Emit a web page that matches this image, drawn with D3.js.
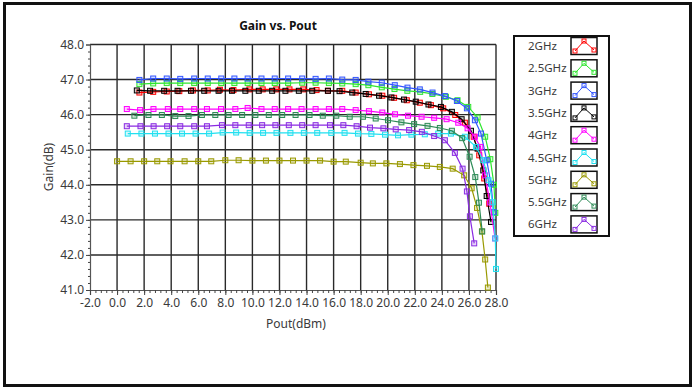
<!DOCTYPE html>
<html>
<head>
<meta charset="utf-8">
<script src="https://cdn.jsdelivr.net/npm/d3@7"></script>
<style>
  body { margin: 0; background: #fff; }
  text { font-family: "Noto Sans", "Open Sans", sans-serif; }
</style>
</head>
<body>
<svg id="chart" width="694" height="389"></svg>
<script>
// frequencies shown in the legend
let seriesNames = ['2GHz', '2.5GHz', '3GHz', '3.5GHz', '4GHz', '4.5GHz', '5GHz', '5.5GHz', '6GHz'];
let seriesColors = ['#ff0000', '#2ee62e', '#3355ff', '#000000', '#ff00ff', '#22e0f0', '#999900', '#2e8b57', '#8a2be2'];

let xTicks = [-2, 0, 2, 4, 6, 8, 10, 12, 14, 16, 18, 20, 22, 24, 26, 28];
let yTicks = [41, 42, 43, 44, 45, 46, 47, 48];

// [Pout dBm, Gain dB]
let gain2 = [[1.65,46.63],[2.67,46.65],[3.67,46.66],[4.6,46.67],[5.6,46.69],[6.7,46.69],[7.6,46.71],[8.6,46.7],[9.78,46.72],[10.76,46.72],[11.76,46.72],[12.74,46.72],[13.76,46.72],[14.74,46.7],[15.58,46.68],[16.64,46.68],[17.63,46.63],[18.61,46.58],[19.6,46.54],[20.47,46.48],[21.41,46.41],[22.37,46.34],[23.19,46.27],[24.1,46.18],[24.99,45.99],[25.7,45.77],[26.35,45.37],[26.76,44.84],[27.13,44.18],[27.5,43.46]];
let gain25 = [[1.65,46.87],[2.67,46.89],[3.67,46.9],[4.67,46.9],[5.7,46.9],[6.7,46.9],[7.7,46.9],[8.67,46.9],[9.65,46.9],[10.67,46.9],[11.65,46.9],[12.64,46.9],[13.68,46.91],[14.67,46.91],[15.65,46.9],[16.64,46.89],[17.63,46.87],[18.57,46.84],[19.56,46.78],[20.5,46.73],[21.45,46.68],[22.4,46.65],[23.3,46.59],[24.3,46.51],[25.16,46.41],[25.95,46.22],[26.64,45.92],[27.2,45.37],[27.58,44.73],[27.85,44.0],[27.95,43.2]];
let gain3 = [[1.65,46.99],[2.67,47.03],[3.67,47.03],[4.67,47.02],[5.7,47.03],[6.7,47.03],[7.7,47.03],[8.67,47.03],[9.65,47.03],[10.67,47.03],[11.65,47.03],[12.64,47.03],[13.68,47.03],[14.67,47.02],[15.65,47.03],[16.64,47.0],[17.63,46.99],[18.57,46.94],[19.56,46.91],[20.52,46.84],[21.46,46.77],[22.37,46.72],[23.31,46.63],[24.22,46.53],[25.11,46.39],[25.85,46.18],[26.44,45.84],[26.89,45.46],[27.31,44.7],[27.63,44.03],[27.83,43.22]];
let gain35 = [[1.46,46.69],[2.44,46.68],[3.48,46.68],[4.47,46.68],[5.46,46.68],[6.44,46.68],[7.5,46.68],[8.49,46.68],[9.48,46.68],[10.47,46.68],[11.46,46.68],[12.44,46.68],[13.43,46.68],[14.42,46.68],[15.58,46.68],[16.44,46.67],[17.38,46.63],[18.37,46.59],[19.36,46.54],[20.27,46.49],[21.2,46.43],[22.07,46.37],[23.01,46.29],[23.93,46.22],[24.74,46.08],[25.46,45.87],[26.15,45.54],[26.64,45.03],[27.06,44.41],[27.31,43.68],[27.63,42.94]];
let gain4 = [[0.72,46.16],[1.7,46.13],[2.69,46.16],[3.75,46.16],[4.67,46.16],[5.7,46.16],[6.64,46.16],[7.68,46.16],[8.74,46.16],[9.65,46.19],[10.67,46.16],[11.65,46.16],[12.64,46.16],[13.63,46.16],[14.67,46.16],[15.65,46.16],[16.64,46.16],[17.63,46.13],[18.61,46.1],[19.6,46.06],[20.54,46.01],[21.5,45.97],[22.5,45.94],[23.43,45.91],[24.35,45.87],[25.21,45.77],[25.9,45.61],[26.44,45.37],[26.84,45.08],[27.19,44.27],[27.55,43.5],[27.93,42.47]];
let gain45 = [[0.79,45.46],[1.8,45.46],[2.8,45.46],[3.8,45.46],[4.8,45.46],[5.8,45.46],[6.8,45.46],[7.8,45.49],[8.8,45.49],[9.8,45.48],[10.79,45.48],[11.78,45.48],[12.81,45.48],[13.8,45.48],[14.79,45.48],[15.83,45.48],[16.81,45.48],[17.8,45.46],[18.79,45.45],[19.8,45.43],[20.76,45.41],[21.75,45.43],[22.74,45.44],[23.73,45.46],[24.67,45.46],[25.7,45.37],[26.52,45.08],[27.06,44.7],[27.45,44.13],[27.75,43.5],[27.95,42.47],[28.0,41.6]];
let gain5 = [[0.0,44.67],[1.0,44.67],[2.0,44.67],[2.97,44.67],[3.95,44.67],[4.99,44.67],[6.0,44.67],[6.96,44.67],[8.0,44.7],[8.98,44.7],[10.0,44.69],[11.0,44.69],[12.0,44.69],[13.0,44.69],[14.0,44.69],[15.0,44.69],[16.0,44.66],[16.9,44.66],[18.0,44.63],[18.9,44.61],[19.9,44.61],[20.9,44.59],[21.9,44.56],[22.9,44.54],[23.85,44.51],[24.8,44.46],[25.65,44.27],[26.2,43.9],[26.6,43.34],[26.96,42.67],[27.2,41.87],[27.4,41.07]];
let gain55 = [[1.28,45.97],[2.32,45.99],[3.31,45.99],[4.3,45.96],[5.28,45.96],[6.27,45.99],[7.26,45.99],[8.24,45.99],[9.24,45.99],[10.22,45.99],[11.21,45.99],[12.2,45.99],[13.19,45.99],[14.22,45.99],[15.2,45.97],[16.2,45.97],[17.19,45.94],[18.17,45.94],[19.11,45.89],[20.02,45.84],[21.01,45.78],[21.95,45.73],[22.94,45.68],[23.85,45.62],[24.74,45.54],[25.5,45.33],[26.05,44.8],[26.47,44.22],[26.74,43.49],[26.98,42.67]];
let gain6 = [[0.72,45.67],[1.73,45.67],[2.7,45.67],[3.7,45.67],[4.67,45.67],[5.7,45.67],[6.64,45.67],[7.75,45.7],[8.74,45.7],[9.73,45.7],[10.72,45.7],[11.7,45.7],[12.69,45.7],[13.68,45.7],[14.67,45.7],[15.73,45.7],[16.72,45.7],[17.7,45.67],[18.69,45.63],[19.68,45.61],[20.59,45.58],[21.58,45.56],[22.52,45.51],[23.43,45.39],[24.22,45.27],[24.96,44.91],[25.53,44.46],[25.85,43.81],[26.07,43.1],[26.39,42.33]];

let allSeries = [gain2, gain25, gain3, gain35, gain4, gain45, gain5, gain55, gain6];

let svg = d3.select('#chart');

// outer frame
svg.append('rect')
  .attr('x', 4.5).attr('y', 3.5)
  .attr('width', 686).attr('height', 382)
  .attr('fill', 'none')
  .attr('stroke', '#111')
  .attr('stroke-width', 3);

let x = d3.scaleLinear().domain([-2, 28]).range([90, 496]);
let y = d3.scaleLinear().domain([41, 48]).range([290, 44.5]);

// grid
svg.append('g').selectAll('line')
  .data(xTicks.slice(1))
  .enter().append('line')
  .attr('x1', d => x(d)).attr('x2', d => x(d))
  .attr('y1', y(48)).attr('y2', y(41))
  .attr('stroke', '#2a2a2a').attr('stroke-width', 1.4);

svg.append('g').selectAll('line')
  .data(yTicks.slice(1))
  .enter().append('line')
  .attr('x1', x(-2)).attr('x2', x(28))
  .attr('y1', d => y(d)).attr('y2', d => y(d))
  .attr('stroke', '#2a2a2a').attr('stroke-width', 1.4);

// axes, plain hyphen for the minus sign
let fmt = d => d3.format('.1f')(d).replace('\u2212', '-');
svg.append('g').attr('transform', 'translate(90,0)')
  .call(d3.axisLeft(y).tickValues(yTicks).tickFormat(fmt).tickSize(4).tickPadding(2));
svg.append('g').attr('transform', 'translate(90,0)')
  .call(d3.axisLeft(y).tickValues(d3.range(41, 48, 0.2)).tickFormat('').tickSize(2))
  .select('.domain').remove();

svg.append('g').attr('transform', 'translate(0,290)')
  .call(d3.axisBottom(x).tickValues(xTicks).tickFormat(fmt).tickSize(5).tickPadding(3));
svg.append('g').attr('transform', 'translate(0,290)')
  .call(d3.axisBottom(x).tickValues(d3.range(-2, 28, 0.4)).tickFormat('').tickSize(3))
  .select('.domain').remove();

svg.selectAll('.domain').attr('stroke', '#555').attr('stroke-width', 1.2);
svg.selectAll('.tick line').attr('stroke', '#444');
svg.selectAll('.tick text')
  .attr('fill', '#3a3a3a')
  .style('font-size', '12px')
  .style('font-family', '"Noto Sans", sans-serif');

// titles
svg.append('text')
  .attr('x', 278).attr('y', 30)
  .attr('text-anchor', 'middle')
  .style('font-size', '12px').style('font-weight', 'bold')
  .attr('fill', '#111')
  .text('Gain vs. Pout');

svg.append('text')
  .attr('transform', 'translate(53,167) rotate(-90)')
  .attr('text-anchor', 'middle')
  .style('font-size', '12px')
  .attr('fill', '#3a3a3a')
  .text('Gain(dB)');

svg.append('text')
  .attr('x', 296).attr('y', 328)
  .attr('text-anchor', 'middle')
  .style('font-size', '12px')
  .attr('fill', '#3a3a3a')
  .text('Pout(dBm)');

// series
let line = d3.line().x(d => x(d[0])).y(d => y(d[1]));
let ms = 5;

allSeries.forEach(function(data, i){
  let g = svg.append('g');
  g.append('path')
    .datum(data)
    .attr('d', line)
    .attr('fill', 'none')
    .attr('stroke', seriesColors[i])
    .attr('stroke-width', 1.2);
  g.selectAll('rect')
    .data(data)
    .enter().append('rect')
    .attr('x', d => x(d[0]) - ms/2)
    .attr('y', d => y(d[1]) - ms/2)
    .attr('width', ms).attr('height', ms)
    .attr('fill', seriesColors[i]).attr('fill-opacity', 0.2)
    .attr('stroke', seriesColors[i])
    .attr('stroke-width', 1);
});

// legend
let legend = svg.append('g');
legend.append('rect')
  .attr('x', 514).attr('y', 36)
  .attr('width', 95).attr('height', 200)
  .attr('fill', '#fff')
  .attr('stroke', '#111').attr('stroke-width', 2);

let items = legend.selectAll('.item')
  .data(seriesNames)
  .enter().append('g')
  .attr('class', 'item')
  .attr('transform', (_, i) => `translate(0,${46 + i*22.3})`);

items.append('text')
  .attr('x', 528).attr('y', 4)
  .style('font-size', '11.5px')
  .attr('fill', '#3a3a3a')
  .text(d => d);

items.append('rect')
  .attr('x', 571).attr('y', -8.5)
  .attr('width', 26).attr('height', 17)
  .attr('fill', '#fff')
  .attr('stroke', '#111').attr('stroke-width', 1.5);

let icon = [[575, 5], [584, -5], [594, 4]];
items.append('path')
  .attr('d', d3.line()(icon))
  .attr('fill', 'none')
  .attr('stroke', (_, i) => seriesColors[i])
  .attr('stroke-width', 1);

items.each(function(_, i){
  d3.select(this).selectAll('rect.mk')
    .data(icon)
    .enter().append('rect')
    .attr('class', 'mk')
    .attr('x', d => d[0] - 2).attr('y', d => d[1] - 2)
    .attr('width', 4).attr('height', 4)
    .attr('fill', 'none')
    .attr('stroke', seriesColors[i]);
});
</script>
</body>
</html>
